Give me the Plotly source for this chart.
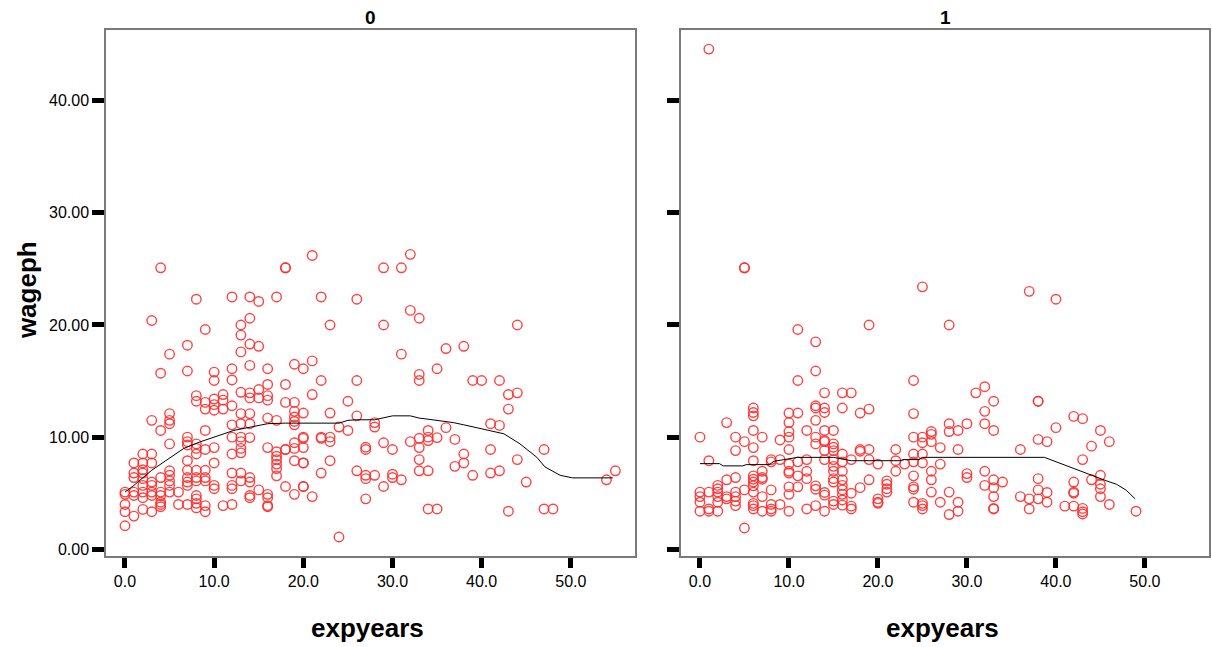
import plotly.graph_objects as go

# ---------------- data ----------------
# group "0": wageph values per expyears
wage_by_exp_g0 = {
    0: [5.1, 4.9, 4.0, 3.35, 2.1],
    1: [7.7, 6.8, 6.4, 5.1, 4.8, 2.96],
    2: [8.5, 7.7, 7.1, 6.8, 6.3, 5.7, 5.1, 4.6, 3.56],
    3: [20.4, 11.5, 8.5, 7.7, 6.0, 5.7, 5.1, 4.8, 3.35],
    4: [25.1, 15.7, 10.6, 6.4, 5.1, 4.8, 4.2, 4.0, 3.8],
    5: [17.4, 12.1, 11.5, 11.2, 9.4, 7.0, 6.6, 6.1, 5.7, 5.1],
    6: [5.1, 4.0],
    7: [18.2, 15.9, 10.0, 9.6, 9.3, 7.9, 7.05, 6.4, 6.0, 5.7, 4.0],
    8: [22.3, 13.7, 13.2, 9.4, 9.0, 8.5, 7.05, 6.4, 6.1, 4.8, 4.5, 4.1, 3.7],
    9: [19.6, 13.1, 12.5, 10.6, 8.9, 7.05, 6.4, 6.1, 3.9, 3.35],
    10: [15.8, 15.05, 13.4, 12.9, 12.4, 9.07, 7.7, 5.7, 5.4],
    11: [13.8, 13.3, 12.5, 3.9],
    12: [22.5, 16.1, 15.1, 12.8, 11.1, 10.0, 8.5, 6.8, 5.7, 5.4, 4.0],
    13: [20.0, 19.1, 17.6, 14.0, 12.1, 11.2, 10.0, 9.6, 9.0, 8.6, 6.8, 6.1],
    14: [22.5, 20.6, 18.3, 16.4, 13.95, 13.5, 12.1, 11.2, 9.96, 6.4, 6.0, 4.8, 4.6],
    15: [22.1, 18.1, 14.25, 13.5, 5.3],
    16: [16.1, 14.7, 13.7, 13.3, 11.7, 9.07, 4.9, 4.6, 3.9, 3.8],
    17: [22.5, 11.5, 8.7, 8.3, 8.0, 7.6, 7.2, 6.55],
    18: [25.1, 25.1, 14.7, 13.1, 8.9, 8.9, 5.6],
    19: [16.5, 13.1, 12.3, 11.8, 11.4, 11.1, 9.5, 9.0, 7.9, 4.9],
    20: [16.1, 12.15, 10.0, 9.9, 9.07, 7.7, 7.7, 5.6, 5.6],
    21: [26.2, 16.8, 13.8, 4.7],
    22: [22.5, 15.05, 10.0, 9.9, 6.8],
    23: [20.0, 12.15, 10.0, 9.6, 7.9],
    24: [10.9, 1.1],
    25: [13.2, 10.6],
    26: [22.3, 15.05, 11.9, 7.0],
    27: [9.1, 8.9, 6.6, 6.3, 4.5],
    28: [11.3, 10.9, 6.6],
    29: [25.1, 20.0, 9.5, 5.6],
    30: [8.9, 6.7, 6.4],
    31: [25.1, 17.4, 6.2],
    32: [26.3, 21.3, 9.6],
    33: [20.6, 15.6, 15.05, 9.9, 9.07, 8.0, 7.0],
    34: [10.6, 10.0, 9.7, 7.0, 3.6],
    35: [16.1, 9.96, 3.6],
    36: [17.9, 10.85],
    37: [9.8, 7.4],
    38: [18.1, 8.5, 7.7],
    39: [15.05, 6.6],
    40: [15.05],
    41: [11.2, 8.9, 6.8],
    42: [15.05, 11.05, 7.0],
    43: [13.8, 12.5, 3.4],
    44: [20.0, 13.95, 8.0],
    45: [6.0],
    47: [8.9, 3.6],
    48: [3.6],
    54: [6.2],
    55: [7.0],
}

# group "1": wageph values per expyears
wage_by_exp_g1 = {
    0: [10.0, 5.1, 4.7, 4.2, 3.4],
    1: [44.6, 7.9, 5.1, 3.6, 3.4],
    2: [5.7, 5.4, 5.1, 4.7, 4.2, 3.4],
    3: [11.3, 6.2, 4.7, 4.5],
    4: [10.0, 8.8, 6.4, 5.1, 4.7, 4.3, 3.9],
    5: [25.1, 25.1, 9.6, 5.3, 1.9],
    6: [12.6, 12.2, 11.9, 10.6, 9.07, 7.9, 6.55, 6.25, 6.0, 5.66, 5.1, 4.1, 3.9, 3.6],
    7: [10.0, 6.96, 6.4, 6.25, 4.7, 3.4],
    8: [8.0, 7.8, 5.3, 4.0, 3.6, 3.4],
    9: [9.75, 8.0, 4.0],
    10: [12.15, 11.3, 10.5, 10.0, 8.9, 7.6, 6.96, 6.8, 5.57, 4.9, 3.4],
    11: [19.6, 15.05, 12.15, 7.8, 6.55, 5.57],
    12: [10.6, 8.0, 6.96, 6.3, 3.6],
    13: [18.5, 15.9, 12.8, 12.6, 11.5, 10.0, 9.4, 5.66, 5.36, 3.9],
    14: [13.95, 12.6, 12.2, 10.6, 9.7, 9.6, 8.8, 8.0, 5.07, 4.83, 3.4],
    15: [10.6, 9.4, 9.1, 8.8, 8.0, 7.4, 6.96, 6.3, 6.0, 4.3, 4.0],
    16: [13.95, 12.6, 8.5, 7.8, 6.96, 6.2, 5.7, 5.3, 4.9, 4.4, 3.94],
    17: [13.95, 8.0, 5.0, 3.85, 3.6],
    18: [12.15, 8.9, 8.75, 5.5],
    19: [20.0, 12.5, 8.9, 8.0, 6.2],
    20: [7.6, 4.5, 4.2, 4.1],
    21: [6.1, 5.8, 5.4, 5.1],
    22: [8.9, 7.9, 6.96],
    23: [7.6],
    24: [15.05, 12.1, 10.0, 8.5, 7.8, 6.55, 5.57, 5.36, 4.2],
    25: [23.4, 10.0, 9.5, 8.5, 7.7, 4.1, 3.9, 3.6],
    26: [10.5, 10.25, 9.6, 6.96, 6.2, 5.1],
    27: [9.07, 7.6, 4.2],
    28: [20.0, 11.2, 10.5, 5.1, 3.1],
    29: [10.6, 8.9, 4.2, 3.4],
    30: [11.2, 6.75, 6.4],
    31: [13.95],
    32: [14.5, 12.3, 11.2, 6.96, 5.7],
    33: [13.2, 10.6, 6.2, 5.5, 4.7, 3.65, 3.6],
    34: [6.0],
    36: [8.9, 4.7],
    37: [23.0, 4.5, 3.6],
    38: [13.2, 13.2, 9.8, 6.3, 5.3, 4.5],
    39: [9.6, 5.07, 4.2],
    40: [22.3, 10.85],
    41: [3.85],
    42: [11.85, 6.0, 5.1, 5.0, 3.85],
    43: [11.65, 8.0, 3.65, 3.35, 3.15],
    44: [9.2, 6.2],
    45: [10.6, 6.6, 5.8, 5.4, 4.7],
    46: [9.6, 4.0],
    49: [3.4],
}

# loess fit lines
fit_x_g0 = [0, 1, 3, 5, 6.6, 8.5, 10.4, 12.2, 14.1, 16, 18, 20, 22, 24, 25, 26, 28,
            29, 30, 32, 33, 34, 36.8, 38, 40.6, 42.5, 44.3, 46.2, 47.1, 48.8, 50.2, 54.7]
fit_y_g0 = [5.1, 5.7, 7.05, 8.15, 9.0, 9.6, 10.1, 10.6, 10.9, 11.2, 11.25, 11.25, 11.25,
            11.25, 11.5, 11.55, 11.55, 11.7, 11.9, 11.9, 11.7, 11.6, 11.3, 11.1, 10.6,
            10.3, 9.4, 8.2, 7.35, 6.6, 6.37, 6.37]
fit_x_g1 = [0, 2.2, 2.6, 4.8, 5.2, 7.8, 8.3, 11, 15, 16.2, 17, 22.4, 23, 24.6, 25, 38.7,
            40.4, 41.7, 43.4, 44.5, 45.7, 46.8, 47.9, 48.9]
fit_y_g1 = [7.64, 7.64, 7.44, 7.44, 7.55, 7.55, 7.85, 8.2, 8.2, 8.0, 7.9, 7.9, 8.0, 8.0,
            8.2, 8.2, 7.7, 7.35, 6.85, 6.46, 6.1, 5.8, 5.27, 4.5]

panel_titles = ["0", "1"]
x_ticks = [0, 10, 20, 30, 40, 50]
y_ticks = [0, 10, 20, 30, 40]


def flatten(d):
    xs, ys = [], []
    for k, vals in d.items():
        for v in vals:
            xs.append(k)
            ys.append(v)
    return xs, ys


x0, y0 = flatten(wage_by_exp_g0)
x1, y1 = flatten(wage_by_exp_g1)

W, H = 1212, 647
FONT = "Arial, Liberation Sans, Helvetica, sans-serif"
RED = "rgba(255,45,45,0.9)"

fig = go.Figure()
marker = dict(symbol="circle-open", size=9.5, color=RED, line=dict(width=1.4, color=RED))
fig.add_trace(go.Scatter(x=x0, y=y0, mode="markers", marker=marker,
                         xaxis="x", yaxis="y", showlegend=False, hoverinfo="x+y"))
fig.add_trace(go.Scatter(x=fit_x_g0, y=fit_y_g0, mode="lines",
                         line=dict(color="black", width=1),
                         xaxis="x", yaxis="y", showlegend=False))
fig.add_trace(go.Scatter(x=x1, y=y1, mode="markers", marker=marker,
                         xaxis="x2", yaxis="y2", showlegend=False, hoverinfo="x+y"))
fig.add_trace(go.Scatter(x=fit_x_g1, y=fit_y_g1, mode="lines",
                         line=dict(color="black", width=1),
                         xaxis="x2", yaxis="y2", showlegend=False))

dom0 = [106 / W, 635 / W]
dom1 = [681 / W, 1209 / W]
ydom = [1 - 558 / H, 1 - 30 / H]

xcommon = dict(range=[-2.13, 57.2], tickvals=x_ticks,
               ticktext=[f"{v:.1f}" for v in x_ticks],
               ticks="outside", ticklen=10, tickwidth=4.5, tickcolor="black",
               showline=True, linecolor="#7a7a7a", linewidth=1.5, mirror=True,
               showgrid=False, zeroline=False,
               tickfont=dict(family=FONT, size=16, color="black"))
ycommon = dict(range=[-0.62, 46.31], tickvals=y_ticks,
               ticks="outside", ticklen=12, tickwidth=4.5, tickcolor="black",
               showline=True, linecolor="#7a7a7a", linewidth=1.5, mirror=True,
               showgrid=False, zeroline=False,
               tickfont=dict(family=FONT, size=16, color="black"))

fig.update_layout(
    width=W, height=H,
    margin=dict(l=0, r=0, t=0, b=0),
    paper_bgcolor="white", plot_bgcolor="white",
    xaxis=dict(domain=dom0, anchor="y", **xcommon),
    xaxis2=dict(domain=dom1, anchor="y2", **xcommon),
    yaxis=dict(domain=ydom, anchor="x", ticktext=[f"{v:.2f}" for v in y_ticks], **ycommon),
    yaxis2=dict(domain=ydom, anchor="x2", showticklabels=False, **ycommon),
)

annots = []
for t, dom in zip(panel_titles, [dom0, dom1]):
    annots.append(dict(text=f"<b>{t}</b>", x=(dom[0] + dom[1]) / 2, y=1 - 18 / H,
                       xref="paper", yref="paper", showarrow=False,
                       font=dict(family=FONT, size=19, color="black"),
                       xanchor="center", yanchor="middle"))
    annots.append(dict(text="<b>expyears</b>", x=(dom[0] + dom[1]) / 2 - 3 / W,
                       y=1 - 630 / H, xref="paper", yref="paper", showarrow=False,
                       font=dict(family=FONT, size=26, color="black"),
                       xanchor="center", yanchor="middle"))
annots.append(dict(text="<b>wageph</b>", x=27 / W, y=1 - 291 / H,
                   xref="paper", yref="paper", showarrow=False, textangle=-90,
                   font=dict(family=FONT, size=26, color="black"),
                   xanchor="center", yanchor="middle"))
fig.update_layout(annotations=annots)

fig.write_html("out.html")
